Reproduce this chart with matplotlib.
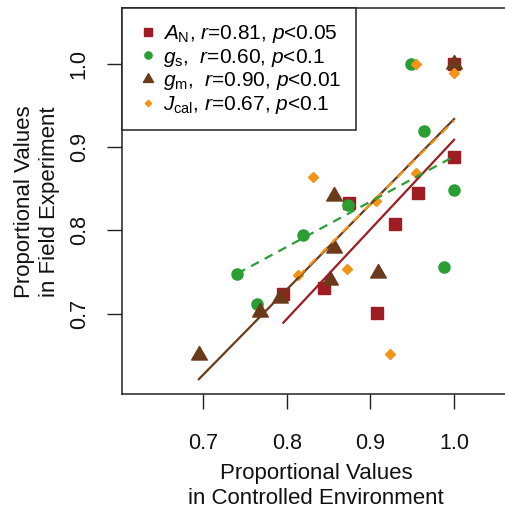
import matplotlib
matplotlib.use("Agg")
import matplotlib.pyplot as plt
from matplotlib.path import Path
import numpy as np

plt.rcParams['font.family'] = ['Liberation Sans', 'DejaVu Sans']
plt.rcParams['mathtext.fontset'] = 'custom'
plt.rcParams['mathtext.rm'] = 'Liberation Sans'
plt.rcParams['mathtext.it'] = 'Liberation Sans:italic'
plt.rcParams['mathtext.bf'] = 'Liberation Sans:bold'

# ---- data ----
AN_x = [1.0, 1.0, 0.957, 0.929, 0.874, 0.796, 0.845, 0.908]
AN_y = [1.0, 0.888, 0.845, 0.808, 0.833, 0.723, 0.731, 0.701]
gs_x = [0.948, 0.964, 1.0, 0.988, 0.873, 0.819, 0.741, 0.764]
gs_y = [1.0, 0.920, 0.849, 0.756, 0.831, 0.794, 0.748, 0.712]
gm_x = [1.0, 0.856, 0.856, 0.852, 0.909, 0.792, 0.768, 0.695]
gm_y = [1.0, 0.841, 0.779, 0.740, 0.749, 0.719, 0.702, 0.650]
Jcal_x = [0.955, 1.0, 0.831, 0.954, 0.907, 0.814, 0.872, 0.924]
Jcal_y = [1.0, 0.989, 0.864, 0.869, 0.835, 0.746, 0.753, 0.651]

# regression line end points
AN_fit_x = [0.796, 1.0]
AN_fit_y = [0.689, 0.909]
gs_fit_x = [0.741, 1.0]
gs_fit_y = [0.748, 0.889]
gm_fit_x = [0.695, 1.0]
gm_fit_y = [0.621, 0.934]
Jcal_fit_x = [0.814, 1.0]
Jcal_fit_y = [0.745, 0.932]

labels = [r'$A_{\mathrm{N}}$, $r$=0.81, $p$<0.05',
          r'$g_{\mathrm{s}}$,  $r$=0.60, $p$<0.1',
          r'$g_{\mathrm{m}}$,  $r$=0.90, $p$<0.01',
          r'$J_{\mathrm{cal}}$, $r$=0.67, $p$<0.1']
ticks = [0.7, 0.8, 0.9, 1.0]
tick_labels = ['0.7', '0.8', '0.9', '1.0']

c_red = '#9e1c22'
c_green = '#2a9e33'
c_brown = '#6b3a1a'
c_orange = '#f39419'

tri = Path([(0, 1), (-0.866, -0.5), (0.866, -0.5), (0, 1)],
           [Path.MOVETO, Path.LINETO, Path.LINETO, Path.CLOSEPOLY])

fig = plt.figure(figsize=(5.06, 5.13), dpi=100)
ax = fig.add_axes([0.2405, 0.2314, 1.0085 - 0.2405, 0.9838 - 0.2314])

ax.plot(AN_x, AN_y, ls='none', marker='s', ms=8.3, color=c_red, mec=c_red, label=labels[0], zorder=3)
ax.plot(gs_x, gs_y, ls='none', marker='o', ms=8.0, color=c_green, mec=c_green, label=labels[1], zorder=3)
ax.plot(gm_x, gm_y, ls='none', marker=tri, ms=13.0, color=c_brown, mec=c_brown, label=labels[2], zorder=3)
ax.plot(Jcal_x, Jcal_y, ls='none', marker='D', ms=5.0, color=c_orange, mec=c_orange, label=labels[3], zorder=3)

ax.plot(gm_fit_x, gm_fit_y, color=c_brown, lw=1.6, zorder=4)
ax.plot(Jcal_fit_x, Jcal_fit_y, color=c_orange, lw=1.6, ls=(0, (4, 3)), zorder=4)
ax.plot(AN_fit_x, AN_fit_y, color=c_red, lw=1.6, zorder=4)
ax.plot(gs_fit_x, gs_fit_y, color=c_green, lw=1.6, ls=(0, (4, 3)), zorder=4)

ax.set_xlim(0.6028, 1.0672)
ax.set_ylim(0.6028, 1.0672)
ax.set_xticks(ticks)
ax.set_xticklabels(tick_labels)
ax.set_yticks(ticks)
ax.set_yticklabels(tick_labels, rotation=90, va='center')
ax.tick_params(axis='both', direction='out', length=11, width=1.0, labelsize=15.5,
               color='#222222', labelcolor='#111111')
ax.tick_params(axis='x', pad=17)
ax.tick_params(axis='y', pad=12)
for s in ax.spines.values():
    s.set_linewidth(1.1)
    s.set_color('#222222')

ax.set_xlabel('Proportional Values\nin Controlled Environment', fontsize=16,
              linespacing=1.3, labelpad=6, color='#111111')
ax.set_ylabel('Proportional Values\nin Field Experiment', fontsize=16,
              linespacing=1.3, labelpad=6, color='#111111')

leg = ax.legend(loc='upper left', bbox_to_anchor=(0, 1), borderaxespad=0,
                fontsize=15, frameon=True, fancybox=False, framealpha=1,
                edgecolor='#222222', markerscale=0.65, handlelength=1.1,
                handletextpad=0.2, borderpad=0.7, labelspacing=0.08)
leg.get_frame().set_linewidth(1.1)
leg.set_zorder(5)

fig.savefig('out.png', dpi=100)
